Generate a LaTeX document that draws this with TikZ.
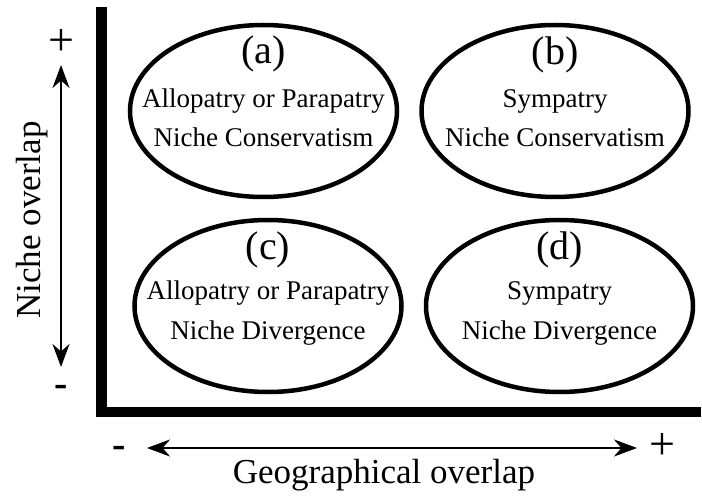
\documentclass[tikz,border=0pt]{standalone}
\usepackage{fontspec}
\setmainfont{Liberation Serif}
\usetikzlibrary{shapes.geometric,arrows.meta}
\begin{document}
\begin{tikzpicture}[x=1pt,y=-1pt,
  oval/.style={draw,ellipse,line width=4.5pt,inner sep=0pt,minimum width=267pt,minimum height=172pt},
  lbl/.style={anchor=base,inner sep=0pt,font=\fontsize{40}{42}\selectfont},
  body/.style={anchor=base,inner sep=0pt,font=\fontsize{27}{30}\selectfont},
  axlbl/.style={anchor=base,inner sep=0pt,font=\fontsize{35}{38}\selectfont},
  sign/.style={anchor=base,inner sep=0pt,font=\fontsize{46}{48}\selectfont},
  msign/.style={anchor=base,inner sep=0pt,font=\fontsize{40}{42}\selectfont\bfseries},
  axarrow/.style={line width=2.2pt,{Stealth[length=23pt,width=17pt]}-{Stealth[length=23pt,width=17pt]}}]
\useasboundingbox (0,0) rectangle (702,497);
% axes bars
\fill (96,7.5) rectangle (107,417);
\fill (96,407) rectangle (701,417);
% ellipses
\node[oval] (ea) at (263.5,111) {};
\node[oval] (eb) at (555,111) {};
\node[oval] (ec) at (268,306) {};
\node[oval] (ed) at (559.5,306) {};
% texts
\node[lbl] (ta) at ([yshift=47pt]ea.center) {(a)};
\node[body] (ta1) at ([yshift=3pt]ea.center) {Allopatry or Parapatry};
\node[body] (ta2) at ([yshift=-36pt]ea.center) {Niche Conservatism};
\node[lbl] (tb) at ([yshift=46pt]eb.center) {(b)};
\node[body] (tb1) at ([yshift=3pt]eb.center) {Sympatry};
\node[body] (tb2) at ([yshift=-36pt]eb.center) {Niche Conservatism};
\node[lbl] (tc) at ([yshift=46pt]ec.center) {(c)};
\node[body] (tc1) at ([yshift=6pt]ec.center) {Allopatry or Parapatry};
\node[body] (tc2) at ([yshift=-34pt]ec.center) {Niche Divergence};
\node[lbl] (td) at ([yshift=46pt]ed.center) {(d)};
\node[body] (td1) at ([yshift=6pt]ed.center) {Sympatry};
\node[body] (td2) at ([yshift=-34pt]ed.center) {Niche Divergence};
% vertical axis arrow
\node[sign] (vp) at (61,56) {+};
\node[msign] (vm) at (61,396) {-};
\coordinate (vtop) at (61,65);
\coordinate (vbot) at (61,367);
\draw[axarrow] (vbot) -- (vtop);
\node[axlbl,rotate=90] (ylab) at (40,220) {Niche overlap};
% horizontal axis arrow
\node[msign] (hm) at (119,457) {-};
\node[sign] (hp) at (662,459) {+};
\coordinate (hleft) at (147,448);
\coordinate (hright) at (637,448);
\draw[axarrow] (hleft) -- (hright);
\node[axlbl] (xlab) at (384,483) {Geographical overlap};
\end{tikzpicture}
\end{document}
